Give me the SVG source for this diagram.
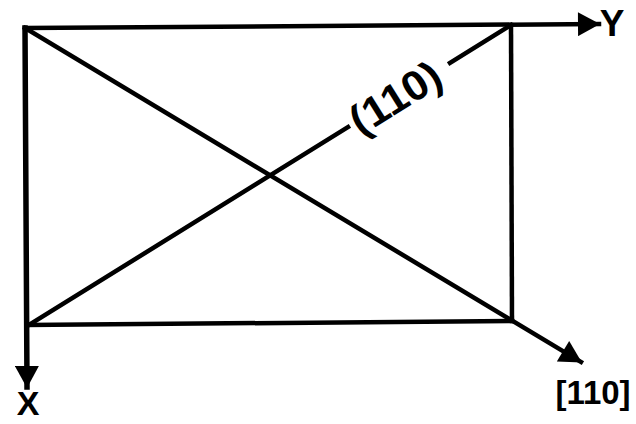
<svg xmlns="http://www.w3.org/2000/svg" width="636" height="424" viewBox="0 0 636 424">
<style>
.ln{stroke:#000;stroke-width:4.5;fill:none;stroke-linecap:square}
.lb{font-family:"Liberation Sans",Arial,sans-serif;font-weight:bold;fill:#000}
</style>
<defs>
<marker id="ah" markerUnits="userSpaceOnUse" markerWidth="24" markerHeight="24" viewBox="0 0 22 24" refX="21" refY="12" orient="auto">
<path d="M0,0 L22,12 L0,24 Z" fill="#000"/>
</marker>
</defs>
<rect width="636" height="424" fill="#fff"/>
<g id="box">
<line class="ln" x1="27" y1="325" x2="512" y2="321"/>
<line class="ln" x1="511" y1="25" x2="512" y2="321"/>
<line class="ln" x1="29" y1="325" x2="348" y2="127"/>
<line class="ln" x1="450" y1="63" x2="511" y2="25"/>
</g>
<g id="connectors">
<line class="ln" x1="25" y1="28" x2="599" y2="24" marker-end="url(#ah)"/>
<line class="ln" x1="25" y1="28" x2="27" y2="387" marker-end="url(#ah)" style="stroke-width:5.5"/>
<line class="ln" x1="25" y1="28" x2="581" y2="362" marker-end="url(#ah)"/>
</g>
<g id="labels">
<text class="lb" x="612" y="36" font-size="37" text-anchor="middle">Y</text>
<text class="lb" x="28" y="415" font-size="34" text-anchor="middle">X</text>
<text class="lb" x="593" y="404" font-size="33" text-anchor="middle">[110]</text>
<text class="lb" x="0" y="0" font-size="42" text-anchor="middle" textLength="100" lengthAdjust="spacingAndGlyphs" transform="translate(403,110) rotate(-32)">(110)</text>
</g>
</svg>
